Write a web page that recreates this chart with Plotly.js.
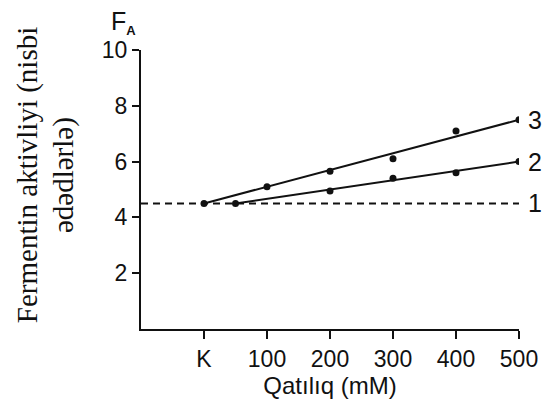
<!DOCTYPE html>
<html>
<head>
<meta charset="utf-8">
<script src="https://cdn.plot.ly/plotly-3.0.1.min.js"></script>
<style>html,body{margin:0;padding:0;background:#fff;}#chart{width:542px;height:410px;}</style>
</head>
<body>
<div id="chart"></div>
<script>
// Data
var xTickVals = [0, 100, 200, 300, 400, 500];
var xTickText = ['K', '100', '200', '300', '400', '500'];
var yTickVals = [2, 4, 6, 8, 10];

var conc3 = [0, 100, 200, 300, 400, 500];
var act3  = [4.5, 5.1, 5.65, 6.1, 7.1, 7.5];
var fit3x = [0, 500];
var fit3y = [4.5, 7.5];

var conc2 = [50, 200, 300, 400, 500];
var act2  = [4.5, 4.95, 5.4, 5.6, 6.0];
var fit2x = [50, 500];
var fit2y = [4.5, 6.0];

var ctrlX = [-100, 500];
var ctrlY = [4.5, 4.5];

var seriesLabels = ['1', '2', '3'];
var labelY = [4.5, 6.0, 7.5];

var yTitleLines = ['Fermentin aktivliyi (nisbi', 'ədədlərlə)'];

var black = '#111';
var sans = 'Liberation Sans, Arial, sans-serif';
var traces = [
  {x: ctrlX, y: ctrlY, mode: 'lines', line: {color: black, width: 2, dash: '7px,5px'}, hoverinfo: 'skip'},
  {x: fit3x, y: fit3y, mode: 'lines', line: {color: black, width: 2}, hoverinfo: 'skip'},
  {x: fit2x, y: fit2y, mode: 'lines', line: {color: black, width: 2}, hoverinfo: 'skip'},
  {x: conc3, y: act3, mode: 'markers', marker: {color: black, size: 7}},
  {x: conc2, y: act2, mode: 'markers', marker: {color: black, size: 7}}
];

var annotations = [];
for (var i = 0; i < seriesLabels.length; i++) {
  annotations.push({
    x: 500, y: labelY[i], xref: 'x', yref: 'y', text: seriesLabels[i],
    showarrow: false, xanchor: 'left', xshift: 7,
    font: {family: sans, size: 25, color: black}
  });
}
var yTitleX = [-0.3, -0.205];
for (var j = 0; j < yTitleLines.length; j++) {
  annotations.push({
    xref: 'paper', yref: 'paper', x: yTitleX[j], y: 0.55,
    text: yTitleLines[j], textangle: -90,
    showarrow: false, xanchor: 'center', yanchor: 'middle',
    font: {family: 'Liberation Serif, Times New Roman, serif', size: 29, color: black}
  });
}
annotations.push({
  xref: 'paper', yref: 'paper', x: -0.085, y: 1.035,
  text: 'F<sub><b><span style="font-size:13px">A</span></b></sub>', showarrow: false, xanchor: 'left', yanchor: 'bottom',
  font: {family: sans, size: 25, color: black}
});

var tickFont = {family: sans, size: 23, color: black};
var layout = {
  width: 542, height: 410,
  margin: {l: 141, r: 23, t: 50, b: 81},
  paper_bgcolor: '#fff', plot_bgcolor: '#fff',
  showlegend: false,
  xaxis: {
    range: [-100, 500], showgrid: false, zeroline: false,
    showline: true, linecolor: black, linewidth: 2,
    ticks: 'outside', ticklen: 8, tickwidth: 2, tickcolor: black,
    tickvals: xTickVals, ticktext: xTickText, tickfont: tickFont,
    title: {text: 'Qatılıq (mM)', font: {family: sans, size: 24, color: black}, standoff: 2}
  },
  yaxis: {
    range: [0, 10], showgrid: false, zeroline: false,
    showline: true, linecolor: black, linewidth: 2,
    ticks: 'outside', ticklen: 7, tickwidth: 2, tickcolor: black,
    tickvals: yTickVals, tickfont: tickFont
  },
  annotations: annotations
};

Plotly.newPlot('chart', traces, layout, {displayModeBar: false, staticPlot: true});
</script>
</body>
</html>
